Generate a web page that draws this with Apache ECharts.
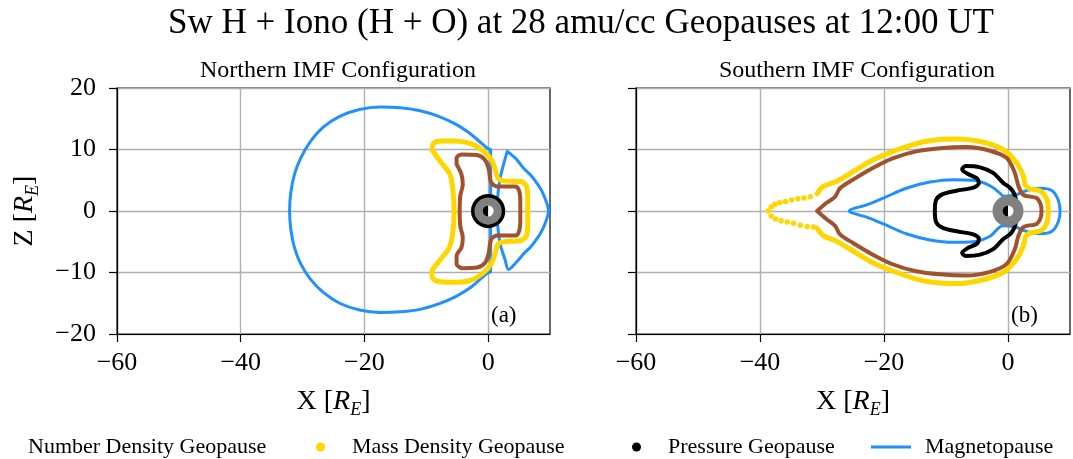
<!DOCTYPE html>
<html><head><meta charset="utf-8">
<script src="https://cdn.jsdelivr.net/npm/echarts@6/dist/echarts.min.js"></script>
<style>html,body{margin:0;padding:0;background:#fff}#c{width:1073px;height:459px}</style>
</head><body><div id="c"></div>
<script>
// ---------- data (X, Z in Earth radii) ----------
const xTicks = [-60, -40, -20, 0];
const zTicks = [-20, -10, 0, 10, 20];
const panelTitles = ['Northern IMF Configuration', 'Southern IMF Configuration'];
const panelTags = ['(a)', '(b)'];
const seriesNames = ['Number Density Geopause', 'Mass Density Geopause', 'Pressure Geopause', 'Magnetopause'];
const earthCenter = [[0, 0]];

// Northern IMF
const northMagnetoNight = [[0.4,10.0],[-0.1,10.2],[-1.4,11.3],[-3.2,12.8],[-5.4,14.2],[-8.0,15.4],[-11.0,16.3],[-14.2,16.8],[-17.5,16.9],[-20.8,16.5],[-24.0,15.4],[-26.7,13.6],[-28.8,11.2],[-30.3,8.6],[-31.3,6.0],[-31.9,3.0],[-32.1,0],[-31.9,-3.0],[-31.3,-6.0],[-30.3,-8.6],[-28.8,-11.0],[-26.7,-13.2],[-24.0,-15.0],[-20.8,-16.1],[-17.5,-16.5],[-14.2,-16.4],[-11.0,-16.0],[-8.0,-15.1],[-5.4,-14.0],[-3.2,-12.7],[-1.4,-11.2],[-0.1,-10.1],[0.4,-9.8],[0.4,-5.0],[0.4,0],[0.4,5.0],[0.4,10.0]];
const northMagnetoDay = [[3.1,9.7],[4.6,8.4],[5.7,7.0],[6.9,5.8],[7.9,4.5],[8.7,3.2],[9.4,1.5],[9.75,0],[9.4,-1.5],[8.7,-3.2],[7.9,-4.5],[6.9,-5.8],[5.7,-7.0],[4.6,-8.3],[3.3,-9.5],[2.7,-7.8],[2.0,-5.6],[1.6,-3.0],[1.5,0],[1.6,3.0],[2.0,5.6],[2.6,8.0],[3.1,9.7]];
const northMass = [[-9.1,10.0],[-8.8,11.0],[-7.8,11.4],[-5.6,11.4],[-2.9,11.0],[-0.8,9.8],[0.6,8.2],[1.2,6.5],[1.6,5.3],[2.6,4.9],[5.3,4.8],[6.2,4.0],[6.4,2.0],[6.4,0],[6.4,-2.0],[6.2,-4.0],[5.3,-4.8],[2.6,-5.0],[1.6,-5.4],[1.2,-6.6],[0.6,-8.4],[-0.8,-10.1],[-2.9,-11.3],[-5.6,-11.6],[-7.8,-11.5],[-8.9,-11.0],[-9.1,-10.0],[-7.8,-8.0],[-6.3,-6.0],[-5.7,-3.5],[-5.5,0],[-5.7,3.5],[-6.2,6.0],[-7.7,8.0],[-9.1,10.0]];
const northNumber = [[-5.1,7.6],[-5.1,8.6],[-4.3,9.2],[-1.8,9.1],[-0.5,8.3],[0.1,6.8],[0.5,4.6],[1.5,4.0],[4.4,4.0],[5.0,3.3],[5.2,1.5],[5.2,0],[5.2,-1.5],[5.0,-3.3],[4.4,-4.0],[1.5,-4.0],[0.5,-4.6],[0.1,-6.8],[-0.5,-8.4],[-1.8,-9.2],[-4.2,-9.3],[-5.1,-8.6],[-5.1,-7.3],[-4.3,-5.9],[-4.1,-4.3],[-4.5,-2.5],[-4.6,0],[-4.5,2.5],[-4.1,4.3],[-4.3,5.9],[-5.1,7.6]];
const northPressure = [[2.5,0],[2.17,1.25],[1.25,2.17],[0,2.5],[-1.25,2.17],[-2.17,1.25],[-2.5,0],[-2.17,-1.25],[-1.25,-2.17],[0,-2.5],[1.25,-2.17],[2.17,-1.25],[2.5,0]];

// Southern IMF
const southMagneto = [[-0.8,2.4],[-2.9,4.1],[-5.6,5.0],[-8.8,5.1],[-12.6,4.7],[-16.4,3.7],[-20.1,2.1],[-22.8,1.0],[-25.6,0],[-22.8,-1.0],[-20.1,-2.1],[-16.4,-3.7],[-12.6,-4.7],[-8.8,-5.1],[-5.6,-5.0],[-2.9,-4.1],[-0.8,-2.4],[1.2,-2.6],[2.6,-3.2],[3.6,-3.5],[5.2,-3.7],[7.1,-3.3],[8.1,-1.8],[8.4,0],[8.1,1.8],[7.1,3.3],[5.2,3.7],[3.6,3.5],[2.6,3.2],[1.2,2.6],[-0.8,2.4]];
const southMass = [[-30.8,2.8],[-29.8,4.0],[-27.7,4.8],[-25.0,6.4],[-21.8,8.3],[-18.5,9.7],[-15.3,10.8],[-12.1,11.5],[-8.3,11.7],[-4.5,11.3],[-0.8,10.0],[1.4,7.8],[2.5,5.6],[2.8,4.2],[3.5,3.6],[5.3,3.2],[6.3,1.8],[6.5,0],[6.3,-1.8],[5.3,-3.2],[3.5,-3.6],[2.8,-4.2],[2.5,-5.6],[1.4,-7.8],[-0.8,-10.0],[-4.5,-11.3],[-8.3,-11.8],[-12.1,-11.6],[-15.3,-10.9],[-18.5,-9.8],[-21.8,-8.4],[-25.0,-6.5],[-27.7,-4.9],[-29.8,-4.0],[-30.8,-2.8]];
const southMassTail = [[-38.7,0],[-38.2,0.7],[-37.6,1.1],[-36.8,1.35],[-35.9,1.55],[-34.9,1.8],[-33.9,2.0],[-32.9,2.1],[-31.9,2.3],[-38.2,-0.8],[-37.5,-1.3],[-36.6,-1.6],[-35.6,-1.8],[-34.6,-2.0],[-33.5,-2.3],[-32.4,-2.5],[-31.4,-2.6]];
const southNumber = [[-30.8,0],[-29.3,1.3],[-27.9,2.3],[-27.1,3.7],[-25.0,5.1],[-21.8,7.0],[-18.5,8.6],[-14.8,9.7],[-11.0,10.2],[-6.7,10.4],[-2.9,9.8],[-0.2,8.6],[1.1,6.2],[1.7,4.0],[2.5,2.6],[4.6,2.1],[5.3,1.0],[5.4,0],[5.3,-1.0],[4.6,-2.1],[2.5,-2.6],[1.7,-4.0],[1.1,-6.2],[-0.2,-8.6],[-2.9,-9.9],[-6.7,-10.5],[-11.0,-10.3],[-14.8,-9.8],[-18.5,-8.7],[-21.8,-7.1],[-25.0,-5.2],[-27.1,-3.8],[-27.9,-2.4],[-29.3,-1.3],[-30.8,0]];
const southPressure = [[-11.8,0],[-11.6,1.8],[-10.6,2.7],[-8.3,3.3],[-5.6,3.8],[-4.7,4.5],[-5.0,5.3],[-6.6,6.1],[-7.4,6.8],[-6.8,7.3],[-4.5,7.1],[-2.4,6.2],[-0.8,4.6],[0.5,3.6],[1.2,2.2],[1.4,0],[1.2,-2.2],[0.5,-3.6],[-0.8,-4.6],[-2.4,-6.2],[-4.5,-7.1],[-6.8,-7.3],[-7.4,-6.8],[-6.6,-6.1],[-5.0,-5.3],[-4.7,-4.5],[-5.6,-3.8],[-8.3,-3.3],[-10.6,-2.7],[-11.6,-1.8],[-11.8,0]];

// ---------- styling ----------
const FONT = "'Liberation Serif', 'DejaVu Serif', serif";
const C = { number: '#A0522D', mass: '#FFD700', pressure: '#000000', magneto: '#1E90FF', earth: '#808080' };
const minus = v => String(v).replace('-', '\u2212');
const nameStyle = { fontFamily: FONT, fontSize: 28, color: '#000', lineHeight: 34,
  rich: { i: { fontFamily: FONT, fontSize: 28, fontStyle: 'italic', lineHeight: 34 },
          s: { fontFamily: FONT, fontSize: 18, fontStyle: 'italic', verticalAlign: 'bottom', lineHeight: 34 } } };

function xAxis(i) {
  return {
    type: 'value', gridIndex: i, min: -60, max: 10, interval: 20,
    name: 'X [{i|R}{s|E}]', nameLocation: 'middle', nameGap: 51, nameTextStyle: nameStyle,
    axisLine: { show: true, onZero: false, lineStyle: { color: '#000', width: 1.2 } },
    axisTick: { show: true, inside: false, length: 8, lineStyle: { color: '#000', width: 1.2 }, customValues: xTicks },
    axisLabel: { fontFamily: FONT, fontSize: 26, color: '#000', margin: 16,
      customValues: xTicks, formatter: v => (xTicks.indexOf(v) >= 0 ? minus(v) : '') },
    splitLine: { show: true, lineStyle: { color: '#b0b0b0', width: 1.4 } }
  };
}
function yAxis(i) {
  return {
    type: 'value', gridIndex: i, min: -20, max: 20, interval: 10,
    name: i === 0 ? 'Z [{i|R}{s|E}]' : '', nameLocation: 'middle', nameGap: 75, nameRotate: 90, nameTextStyle: nameStyle,
    axisLine: { show: true, onZero: false, lineStyle: { color: '#000', width: 1.2 } },
    axisTick: { show: true, inside: false, length: 8, lineStyle: { color: '#000', width: 1.2 } },
    axisLabel: { show: i === 0, fontFamily: FONT, fontSize: 26, color: '#000', margin: 21, formatter: minus },
    splitLine: { show: true, lineStyle: { color: '#b0b0b0', width: 1.4 } }
  };
}
function curve(name, data, g, color, width, z, smooth) {
  return { type: 'line', name, data, xAxisIndex: g, yAxisIndex: g, showSymbol: false, symbol: 'none',
    smooth: smooth || 0.3, color, lineStyle: { color, width, cap: 'round', join: 'round' }, z, animation: false, silent: true };
}
function earth(g, zBase) {
  return [
    { type: 'scatter', name: 'earth', data: earthCenter, xAxisIndex: g, yAxisIndex: g, symbol: 'circle', symbolSize: 31,
      itemStyle: { color: C.earth, opacity: 1 }, z: zBase, animation: false, silent: true },
    { type: 'scatter', name: 'earthDay', data: earthCenter, xAxisIndex: g, yAxisIndex: g, symbol: 'circle', symbolSize: 11,
      itemStyle: { color: '#fff', opacity: 1 }, z: zBase + 2, animation: false, silent: true },
    { type: 'scatter', name: 'earthNight', data: earthCenter, xAxisIndex: g, yAxisIndex: g,
      symbol: 'path://M50,0 A50,50 0 0,0 50,100 Z', symbolSize: [5.5, 11], symbolOffset: [-2.75, 0], symbolKeepAspect: false,
      itemStyle: { color: '#000', opacity: 1 }, z: zBase + 3, animation: false, silent: true }
  ];
}

const series = [
  curve(seriesNames[3], northMagnetoNight, 0, C.magneto, 3, 2, 0.4),
  curve(seriesNames[3], northMagnetoDay, 0, C.magneto, 3, 2, 0.3),
  curve(seriesNames[1], northMass, 0, C.mass, 5, 3),
  curve(seriesNames[0], northNumber, 0, C.number, 4, 4),
  ...earth(0, 5),
  curve(seriesNames[2], northPressure, 0, C.pressure, 3.5, 6, 0.5),
  curve(seriesNames[3], southMagneto, 1, C.magneto, 3, 2, 0.35),
  curve(seriesNames[1], southMass, 1, C.mass, 5, 3),
  { type: 'scatter', name: seriesNames[1], data: southMassTail, xAxisIndex: 1, yAxisIndex: 1, symbol: 'circle', symbolSize: 5.5,
    itemStyle: { color: C.mass, opacity: 1 }, z: 3, animation: false, silent: true },
  curve(seriesNames[0], southNumber, 1, C.number, 4, 4),
  curve(seriesNames[2], southPressure, 1, C.pressure, 4, 4),
  ...earth(1, 5)
];

const legendText = { fontFamily: FONT, fontSize: 22, color: '#000' };
const legends = [
  { left: 22, top: 436, itemWidth: 1, itemHeight: 9, data: [{ name: seriesNames[0], icon: 'circle', itemStyle: { opacity: 0 } }],
    textStyle: legendText },
  { left: 316, top: 436, itemWidth: 9, itemHeight: 9, data: [{ name: seriesNames[1], icon: 'circle' }],
    textStyle: Object.assign({ padding: [0, 0, 0, 22] }, legendText) },
  { left: 632, top: 436, itemWidth: 9, itemHeight: 9, data: [{ name: seriesNames[2], icon: 'circle' }],
    textStyle: Object.assign({ padding: [0, 0, 0, 22] }, legendText) },
  { left: 871, top: 436, itemWidth: 40, itemHeight: 3, data: [{ name: seriesNames[3], icon: 'rect' }],
    textStyle: Object.assign({ padding: [0, 0, 0, 9] }, legendText) }
].map(l => Object.assign({ orient: 'horizontal', padding: 0, selectedMode: false }, l));

const option = {
  backgroundColor: '#fff',
  animation: false,
  title: [
    { text: 'Sw H + Iono (H + O) at 28 amu/cc Geopauses at 12:00 UT', left: 576, textAlign: 'center', top: 1,
      textStyle: { fontFamily: FONT, fontSize: 35, fontWeight: 'normal', color: '#000' } },
    { text: panelTitles[0], left: 333, top: 54, textAlign: 'center',
      textStyle: { fontFamily: FONT, fontSize: 24, fontWeight: 'normal', color: '#000' } },
    { text: panelTitles[1], left: 852, top: 54, textAlign: 'center',
      textStyle: { fontFamily: FONT, fontSize: 24, fontWeight: 'normal', color: '#000' } }
  ],
  legend: legends,
  grid: [
    { left: 117, top: 88, width: 433, height: 246, show: true, borderColor: '#000', borderWidth: 1.2, outerBoundsMode: 'none', containLabel: false },
    { left: 636, top: 88, width: 434, height: 246, show: true, borderColor: '#000', borderWidth: 1.2, outerBoundsMode: 'none', containLabel: false }
  ],
  xAxis: [xAxis(0), xAxis(1)],
  yAxis: [yAxis(0), yAxis(1)],
  graphic: [
    { type: 'text', left: 491, top: 304, z: 100, style: { text: panelTags[0], font: "23px 'Liberation Serif', serif", fill: '#000' } },
    { type: 'text', left: 1011, top: 304, z: 100, style: { text: panelTags[1], font: "23px 'Liberation Serif', serif", fill: '#000' } }
  ],
  series
};
const chart = echarts.init(document.getElementById('c'), null, { renderer: 'canvas' });
chart.setOption(option);
</script></body></html>
